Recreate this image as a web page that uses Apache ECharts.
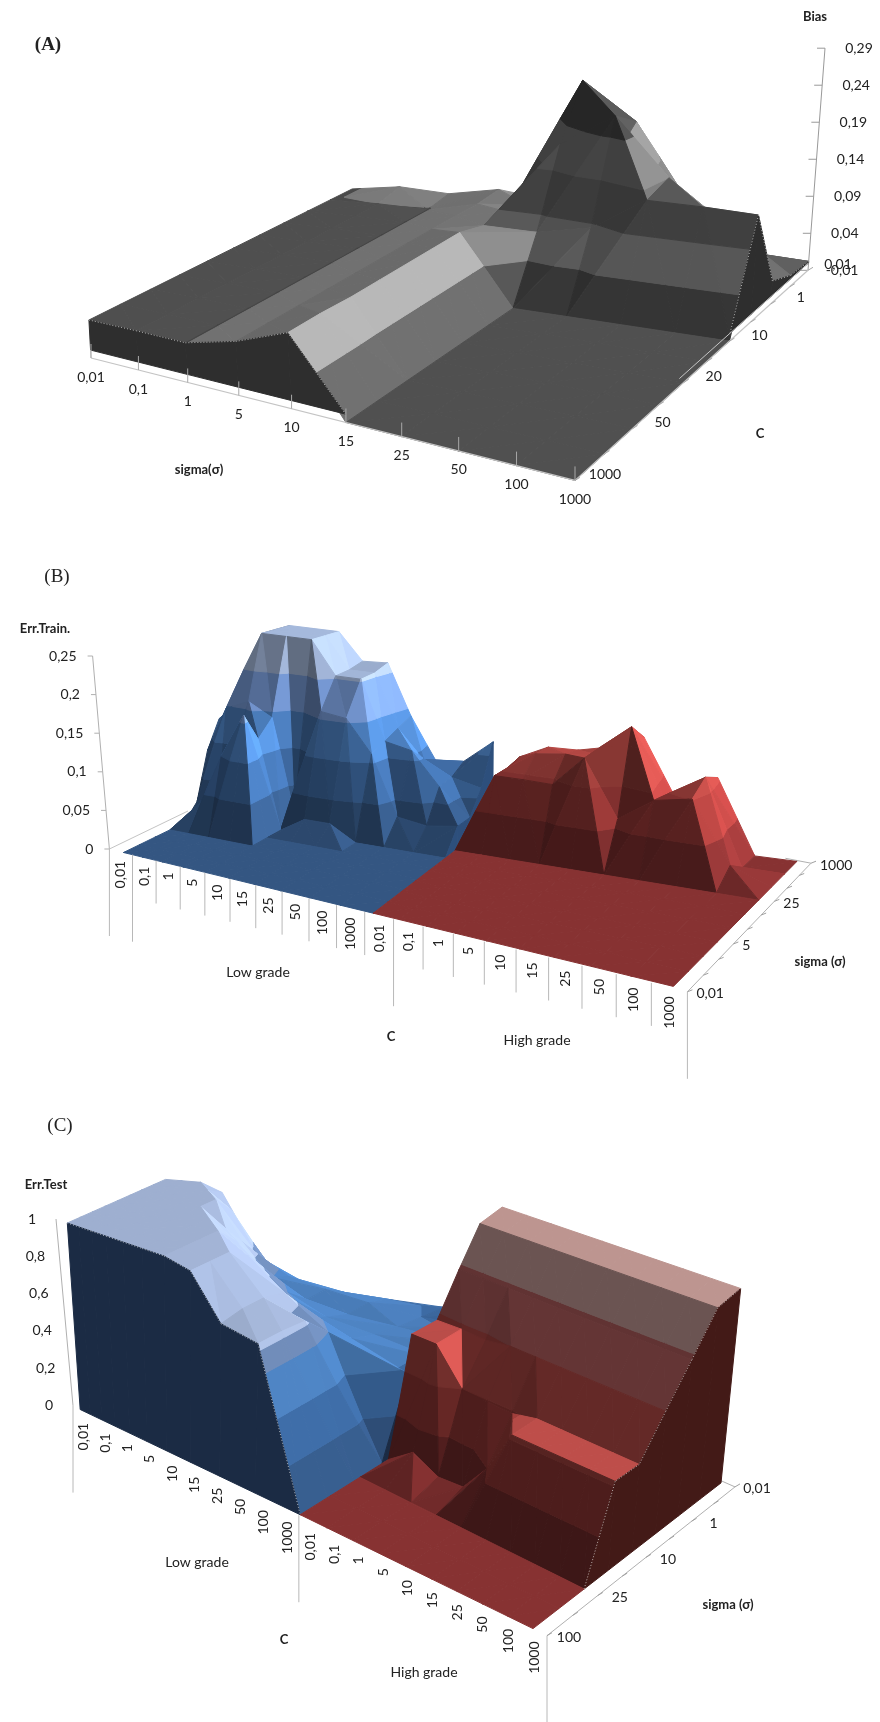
<!DOCTYPE html>
<html>
<head>
<meta charset="utf-8">
<style>html,body{margin:0;background:#fff}#chart{width:880px;height:1722px}</style>
<script src="https://cdn.jsdelivr.net/npm/echarts@6/dist/echarts.min.js"></script>
</head>
<body>
<div id="chart"></div>
<script>
// tick labels
const biasSigma = ['0,01','0,1','1','5','10','15','25','50','100','1000'];
const biasC = ['0,01','','1','','10','','20','','50','','1000'];
const biasTicks = ['-0,01','0,04','0,09','0,14','0,19','0,24','0,29'];
const gradeC = ['0,01','0,1','1','5','10','15','25','50','100','1000'];
const trainSigma = ['1000','','','25','','','5','','','0,01'];
const trainTicks = ['0','0,05','0,1','0,15','0,2','0,25'];
const testSigma = ['0,01','','1','','10','','25','','100'];
const testTicks = ['0','0,2','0,4','0,6','0,8','1'];

// A: rows = C (0,01 at the back), columns = sigma
const bias = [
  [.038,.048,.045,.058,.05,.06,.05,.03,.005,.002],
  [.038,.04,.039,.055,.06,.24,.19,.08,.03,.005],
  [.038,.039,.039,.056,.07,.17,.215,.14,.09,.02],
  [.038,.039,.039,.056,.07,.07,.085,.13,.13,.128],
  [.038,.039,.039,.056,.08,-.01,-.01,-.01,-.01,-.01],
  [.038,.039,.039,.056,.08,-.01,-.01,-.01,-.01,-.01],
  [.038,.039,.039,.056,.08,-.01,-.01,-.01,-.01,-.01],
  [.038,.039,.039,.056,.08,-.01,-.01,-.01,-.01,-.01],
  [.038,.039,.039,.056,.08,-.01,-.01,-.01,-.01,-.01],
  [.038,.039,.039,.056,.082,-.01,-.01,-.01,-.01,-.01],
  [.038,.039,.039,.056,.082,-.01,-.01,-.01,-.01,-.01]
];
// B: rows = sigma (1000 at the back), columns = C
const trainLow = [
  [.1,.13,.25,.25,.25,.211,.213,.14,.08,.083,.117],
  [.11,.15,.25,.25,.25,.205,.205,.13,.09,.07,.06],
  [.12,.15,.25,.25,.25,.203,.203,.12,.112,.067,.03],
  [.082,.146,.16,.142,.011,.16,.155,.111,.03,.024,.03],
  [.02,0,.09,.12,0,.02,.02,0,0,0,0],
  [0,.034,.1,.16,0,0,0,0,0,0,0],
  [0,0,0,0,0,0,0,0,0,0,0],
  [0,0,0,0,0,0,0,0,0,0,0],
  [0,0,0,0,0,0,0,0,0,0,0],
  [0,0,0,0,0,0,0,0,0,0,0]
];
const trainHigh = [
  [0,.1,.119,.12,.13,.15,.06,.105,0,0],
  [0,.095,.12,.125,.13,.175,.075,.118,0,0],
  [0,.095,.095,.094,.136,.06,.092,.101,.02,0],
  [0,0,0,0,0,0,0,0,0,0],
  [0,0,0,0,0,0,0,0,0,0],
  [0,0,0,0,0,0,0,0,0,0],
  [0,0,0,0,0,0,0,0,0,0],
  [0,0,0,0,0,0,0,0,0,0],
  [0,0,0,0,0,0,0,0,0,0],
  [0,0,0,0,0,0,0,0,0,0]
];
// C: rows = sigma (0,01 at the back), columns = C
const testLow = [
  [1,1,1,.95,.7,.5,.45,.42,.4,.38,.38],
  [1,1,1,1,.9,.65,.55,.5,.45,.4,.38],
  [1,1,1,1,1,.78,.6,.5,.45,.42,.38],
  [1,1,1,1,1,.9,.75,.6,.5,.45,.38],
  [1,1,1,1,1,1,.9,.7,.55,.5,.38],
  [1,1,1,1,1,1,1,.9,.75,.6,0],
  [1,1,1,1,1,1,1,.97,.78,.72,0],
  [1,1,1,1,1,1,1,.97,.78,.73,0],
  [1,1,1,1,1,1,1,.97,.76,.73,0]
];
const testHigh = [
  [1,1,1,1,1,1,1,1,1,1],
  [.97,.97,.97,.97,.97,.97,.97,.97,.97,.97],
  [.78,.78,.78,.78,.78,.78,.78,.78,.78,.78],
  [.572,.58,.577,.6,.6,.6,.6,.6,.6,.6],
  [.573,.576,.397,.393,.39,.42,.42,.42,.42,.42],
  [0,.1,.038,.05,.2,.42,.42,.42,.42,.42],
  [0,0,0,0,0,0,0,0,0,0],
  [0,0,0,0,0,0,0,0,0,0],
  [0,0,0,0,0,0,0,0,0,0]
];

const levelsA = [-.01,.04,.09,.14,.19,.24,.29];
const levelsB = [0,.05,.1,.15,.2,.25];
const levelsC = [0,.2,.4,.6,.8,1];
const levelsCLow = [0,.2,.4,.6,.7,1];

function homography(q) {
  // q = corners at (0,0) (1,0) (1,1) (0,1)
  const [x0,y0] = q[0], [x1,y1] = q[1], [x2,y2] = q[2], [x3,y3] = q[3];
  const dx1 = x1-x2, dx2 = x3-x2, sx = x0-x1+x2-x3;
  const dy1 = y1-y2, dy2 = y3-y2, sy = y0-y1+y2-y3;
  const den = dx1*dy2-dx2*dy1;
  const g = (sx*dy2-dx2*sy)/den, h = (dx1*sy-sx*dy1)/den;
  const a = x1-x0+g*x1, b = x3-x0+h*x3, d = y1-y0+g*y1, e = y3-y0+h*y3;
  return (u, v) => {
    const w = g*u+h*v+1;
    return [(a*u+b*v+x0)/w, (d*u+e*v+y0)/w];
  };
}
function camera(floor, top, zMin, zMax, warp) {
  const f = homography(floor), t = homography(top), a = warp || 0;
  return (u0, v, z) => {
    const u = u0+a*u0*(1-u0);
    const p = f(u, v), q = t(u, v), k = (z-zMin)/(zMax-zMin);
    return [p[0]+(q[0]-p[0])*k, p[1]+(q[1]-p[1])*k];
  };
}
function clip(poly, keep) {
  // keep(p) >= 0 is inside, along z
  const out = [];
  for (let n = 0; n < poly.length; n++) {
    const a = poly[n], b = poly[(n+1)%poly.length];
    const ka = keep(a), kb = keep(b);
    if (ka >= 0) out.push(a);
    if ((ka > 0 && kb < 0) || (ka < 0 && kb > 0)) {
      const s = ka/(ka-kb);
      out.push({i:a.i+(b.i-a.i)*s, j:a.j+(b.j-a.j)*s, z:a.z+(b.z-a.z)*s});
    }
  }
  return out;
}
function shade(c, f) {
  return 'rgb('+c.map(x => Math.max(0, Math.min(255, Math.round(x*f)))).join(',')+')';
}

function surfaceSeries(s) {
  const rows = s.values, nr = rows.length, nc = rows[0].length;
  const zMin = s.levels[0], zMax = s.levels[s.levels.length-1];
  const cam = camera(s.floor, s.top, zMin, zMax, s.warp);
  const pt = (p, z) => cam(p.i/(nc-1), p.j/(nr-1), z === undefined ? p.z : z);
  const items = [];
  for (let j = 0; j < nr-1; j++) for (let i = 0; i < nc-1; i++) items.push({k:'cell', i, j});
  if (s.wall) {
    for (let i = 0; i < nc-1; i++) items.push({k:'wall', dots:s.wallDots, a:{i, j:nr-1, z:rows[nr-1][i]}, b:{i:i+1, j:nr-1, z:rows[nr-1][i+1]}});
    if (s.wallRight) for (let j = 0; j < nr-1; j++) items.push({k:'wall', dots:s.wallRight === 'dots', a:{i:nc-1, j, z:rows[j][nc-1]}, b:{i:nc-1, j:j+1, z:rows[j+1][nc-1]}});
  }
  function lit(t) {
    const ax = (t[1].i-t[0].i)*s.world[0], ay = (t[1].j-t[0].j)*s.world[1], az = (t[1].z-t[0].z)/(zMax-zMin)*s.world[2];
    const bx = (t[2].i-t[0].i)*s.world[0], by = (t[2].j-t[0].j)*s.world[1], bz = (t[2].z-t[0].z)/(zMax-zMin)*s.world[2];
    let nx = ay*bz-az*by, ny = az*bx-ax*bz, nz = ax*by-ay*bx;
    const len = Math.hypot(nx, ny, nz) || 1, sg = nz < 0 ? -1 : 1;
    nx *= sg/len; ny *= sg/len; nz *= sg/len;
    return Math.max(s.light[4] || .4, s.light[0]+s.light[1]*nz+s.light[2]*nx+s.light[3]*ny);
  }
  return {
    type: 'custom', coordinateSystem: 'cartesian2d', silent: true, clip: false, progressive: 0, animation: false,
    data: items.map((c, n) => [n, 0]),
    encode: {x: 0, y: 1},
    renderItem(params, api) {
      const c = items[params.dataIndex], children = [];
      const coord = p => api.coord(p);
      if (c.k === 'cell') {
        const {i, j} = c;
        const p00 = {i, j, z:rows[j][i]}, p10 = {i:i+1, j, z:rows[j][i+1]};
        const p11 = {i:i+1, j:j+1, z:rows[j+1][i+1]}, p01 = {i, j:j+1, z:rows[j+1][i]};
        // the diagonal runs through the highest corner
        const top = Math.max(p00.z, p10.z, p11.z, p01.z);
        const tris = (p00.z === top || p11.z === top) && !(p10.z === top && p01.z === top)
          ? [[p00,p10,p11],[p00,p11,p01]]
          : [[p00,p10,p01],[p10,p11,p01]];
        tris.forEach(t => {
          const f = lit(t);
          for (let b = 0; b < s.levels.length-1; b++) {
            const lo = s.levels[b], hi = s.levels[b+1];
            let poly = clip(t, p => p.z-lo);
            poly = clip(poly, p => hi-p.z);
            if (poly.length < 3) continue;
            const col = shade(s.bands[b], f);
            children.push({type:'polygon', shape:{points:poly.map(p => coord(pt(p)))}, style:{fill:col, stroke:col, lineWidth:1}});
          }
        });
      } else {
        const base = s.wallBase;
        if (c.a.z > base || c.b.z > base) {
          const pts = [pt(c.a, Math.max(c.a.z, base)), pt(c.b, Math.max(c.b.z, base)), pt(c.b, base), pt(c.a, base)];
          children.push({type:'polygon', shape:{points:pts.map(coord)}, style:{fill:s.wall, stroke:s.wall, lineWidth:1}});
          if (c.dots) children.push({type:'line', shape:{x1:coord(pts[0])[0], y1:coord(pts[0])[1], x2:coord(pts[1])[0], y2:coord(pts[1])[1]},
            style:{stroke:'#e8e8e8', lineWidth:.7, lineDash:[1,2]}});
        }
      }
      return {type:'group', children};
    }
  };
}

function linesSeries(segs) {
  return {
    type: 'custom', coordinateSystem: 'cartesian2d', silent: true, clip: false, animation: false,
    data: segs.map(s => s[0]),
    encode: {x: 0, y: 1},
    renderItem(params, api) {
      const s = segs[params.dataIndex], a = api.coord(s[0]), b = api.coord(s[1]);
      return {type:'line', shape:{x1:a[0], y1:a[1], x2:b[0], y2:b[1]}, style:{stroke:s[2] || '#b5b5b5', lineWidth:s[3] || 1}};
    }
  };
}
function labelsSeries(labels) {
  return {
    type: 'custom', coordinateSystem: 'cartesian2d', silent: true, clip: false, animation: false,
    data: labels.map(l => l.at),
    encode: {x: 0, y: 1},
    renderItem(params, api) {
      const l = labels[params.dataIndex], p = api.coord(l.at);
      return {type:'text', x:p[0], y:p[1], rotation:l.rot || 0,
        style:{text:l.text, fill:'#222', font:'14px Lato', align:l.align || 'center', verticalAlign:'middle'}};
    }
  };
}
const add = (p, dx, dy) => [p[0]+dx, p[1]+dy];

// ---- panel A
const camA = [[352.4,222],[808,270.3],[575,480.4],[91,358]];
const topA = [[351,15.5],[825,48.2],[583.6,222],[78,120.5]];
const warpA = .24;
const surfA = {values:bias, levels:levelsA, floor:camA, top:topA, warp:warpA, world:[50,45,230],
  light:[.975,.025,.525,-.35,.58], wall:'#2e2e2e', wallDots:true, wallRight:'dots', wallBase:0,
  bands:[[80,80,80],[130,130,130],[95,95,95],[110,110,110],[65,65,65],[150,150,150]]};
const pA = camera(camA, topA, -.01, .29, warpA);
const afterA = [], labelsA = [], beforeA = [];
beforeA.push([pA(1,0,-.01), pA(1,0,.29), '#999']);
biasTicks.forEach((t, k) => {
  const z = levelsA[k], p = pA(1,0,z);
  beforeA.push([p, add(p,-8,0), '#999']);
  labelsA.push({text:t, at:add(p, 34, 0)});
});
afterA.push([pA(0,1,-.01), pA(1,1,-.01), '#c4c4c4', 1.2], [pA(1,0,-.01), pA(1,1,-.01), '#c4c4c4', 1.2], [pA(1,0,0), pA(1,.62,0), '#c4c4c4', 1]);
afterA.push([pA(0,1,-.01), pA(0,1,0), '#c4c4c4', 1]);
biasSigma.forEach((t, i) => {
  const p = pA(i/9, 1, -.01);
  afterA.push([p, add(p,0,-14), '#a8a8a8']);
  labelsA.push({text:t, at:add(p,0,19)});
});
biasC.forEach((t, j) => {
  const p = pA(1, j/10, -.01);
  afterA.push([p, add(p,5,-3), '#a8a8a8']);
  if (t) labelsA.push({text:t, at:add(p, 30, -6)});
});

// ---- panel B
const boxB = [[284,762],[811,863.2],[687.4,991.8],[109.4,849]];
const topB = [[275,592],[825,690],[701.5,754.3],[92.6,656]];
const surfBlue1 = {values:trainLow, levels:levelsB,
  floor:[[249.7,791],[492.7,822],[373.2,913.2],[123.5,852.5]],
  top:[[241.3,619.6],[493.8,650.7],[370.4,691.8],[106.6,656]],
  world:[30,35,190], light:[.975,.025,.3,-.4], wall:'#2d4f7c', wallRight:true, wallBase:0,
  bands:[[52,86,130],[62,105,160],[78,130,195],[120,155,215],[165,185,220]]};
const surfRed1 = {values:trainHigh, levels:levelsB,
  floor:[[492.7,822],[796.9,861.4],[673.4,986.4],[373.2,913.2]],
  top:[[493.8,650.7],[810.9,686.4],[684.6,750.7],[370.4,691.8]],
  world:[30,35,190], light:[.975,.025,.3,-.5],
  bands:[[135,50,50],[165,62,60],[175,70,66],[175,70,66],[175,70,66]]};
const pB = camera(boxB, topB, 0, .25);
const beforeB = [], afterB = [], labelsB = [];
beforeB.push([pB(0,1,0), pB(0,1,.25), '#b0b0b0']);
beforeB.push([pB(0,1,0), [188,811], '#c4c4c4']);
beforeB.push([pB(.96,0,0), pB(1,0,0), '#b0b0b0'], [pB(1,0,0), pB(1,1,0), '#b0b0b0']);
trainTicks.forEach((t, k) => {
  const p = pB(0,1,levelsB[k]);
  beforeB.push([p, add(p,-5,0), '#b0b0b0']);
  labelsB.push({text:t, at:add(p,-16,0), align:'right'});
});
trainSigma.forEach((t, j) => {
  const p = pB(1, j/9, 0);
  afterB.push([p, add(p,5,-2), '#a0a0a0']);
  if (t) labelsB.push({text:t, at:add(p,9,2), align:'left'});
});
const longB = [0,1,11,20];
for (let n = 0; n <= 20; n++) {
  const p = pB(n/20, 1, 0);
  afterB.push([p, add(p,0, longB.indexOf(n) >= 0 ? 87 : 43), '#b8b8b8']);
}
gradeC.concat(gradeC).forEach((t, n) => {
  const p = pB((n+.5)/20, 1, 0);
  labelsB.push({text:t, at:add(p,0,9), rot:Math.PI/2, align:'right'});
});

// ---- panel C
const boxC = [[289,1290],[735,1486.9],[547,1635.7],[73,1405.6]];
const topC = [[281,1110],[755,1292.5],[561,1413.5],[56,1219]];
const surfBlue2 = {values:testLow, levels:levelsCLow,
  floor:[[174,1350],[519,1377.8],[300.2,1514.7],[80.2,1409.5]],
  top:[[165.5,1179.4],[502.2,1207.1],[305.8,1304.4],[67.3,1223]],
  world:[28,45,200], light:[.975,.025,.15,-.55], wall:'#1b2b44', wallDots:true, wallRight:true, wallBase:0,
  bands:[[50,84,128],[56,98,150],[70,118,175],[100,125,165],[158,175,208]]};
const surfRed2 = {values:testHigh, levels:levelsC,
  floor:[[519,1377.8],[721,1482.9],[533,1628.6],[300.2,1514.7]],
  top:[[502.2,1207.1],[740.7,1288.5],[547.1,1405.6],[305.8,1304.4]],
  world:[28,45,200], light:[.975,.025,.25,-.75,.45], wall:'#431a17', wallDots:true, wallRight:'dots', wallBase:0,
  bands:[[135,50,50],[170,65,62],[190,78,74],[190,100,100],[210,165,160]]};
const pC = camera(boxC, topC, 0, 1);
const beforeC = [], afterC = [], labelsC = [];
beforeC.push([pC(0,1,0), pC(0,1,1), '#b0b0b0']);
beforeC.push([pC(.96,0,0), pC(1,0,0), '#b0b0b0'], [pC(1,0,0), pC(1,1,0), '#b0b0b0']);
testTicks.forEach((t, k) => {
  const p = pC(0,1,levelsC[k]);
  labelsC.push({text:t, at:add(p,-24,0)});
});
testSigma.forEach((t, j) => {
  const p = pC(1, j/8, 0);
  afterC.push([p, add(p,5,-3), '#a0a0a0']);
  if (t) labelsC.push({text:t, at:add(p,22,2)});
});
[0,10,20].forEach(n => {
  const p = pC(n/20, 1, 0);
  afterC.push([p, add(p,0,87), '#b8b8b8']);
});
gradeC.concat(gradeC).forEach((t, n) => {
  const p = pC((n+.5)/20, 1, 0);
  labelsC.push({text:t, at:add(p,0,12), rot:Math.PI/2, align:'right'});
});

const nameStyle = {fontFamily:'Lato', fontSize:13, fontWeight:'bold', color:'#222'};
const plainStyle = {fontFamily:'Lato', fontSize:14, fontWeight:'normal', color:'#222'};
const headStyle = {fontFamily:'Liberation Serif', fontSize:19, fontWeight:'bold', color:'#222'};
const head2Style = {fontFamily:'Liberation Serif', fontSize:19, fontWeight:'normal', color:'#222'};
const txt = (text, left, top, textStyle) => ({text, left, top, padding:0, textAlign:'center', textVerticalAlign:'middle', textStyle});

const chart = echarts.init(document.getElementById('chart'), null, {renderer:'canvas'});
chart.setOption({
  animation: false,
  backgroundColor: '#fff',
  grid: {left:0, right:0, top:0, bottom:0},
  xAxis: {type:'value', min:0, max:880, show:false},
  yAxis: {type:'value', min:0, max:1722, inverse:true, show:false},
  title: [
    txt('(A)', 48, 45, headStyle), txt('(B)', 57, 577, head2Style), txt('(C)', 60, 1126, head2Style),
    txt('Bias', 815, 17, nameStyle), txt('C', 760, 434, nameStyle), txt('sigma(σ)', 199, 470, nameStyle),
    txt('Err.Train.', 45, 629, nameStyle), txt('Low grade', 258, 972, plainStyle), txt('C', 391, 1037, nameStyle),
    txt('High grade', 537, 1040, plainStyle), txt('sigma (σ)', 820, 962, nameStyle),
    txt('Err.Test', 46, 1185, nameStyle), txt('Low grade', 197, 1562, plainStyle), txt('C', 284, 1640, nameStyle),
    txt('High grade', 424, 1672, plainStyle), txt('sigma (σ)', 728, 1605, nameStyle)
  ],
  series: [
    linesSeries(beforeA.concat(beforeB, beforeC)),
    surfaceSeries(surfA), surfaceSeries(surfBlue1), surfaceSeries(surfRed1), surfaceSeries(surfBlue2), surfaceSeries(surfRed2),
    linesSeries(afterA.concat(afterB, afterC)),
    labelsSeries(labelsA.concat(labelsB, labelsC))
  ]
});
</script>
</body>
</html>
